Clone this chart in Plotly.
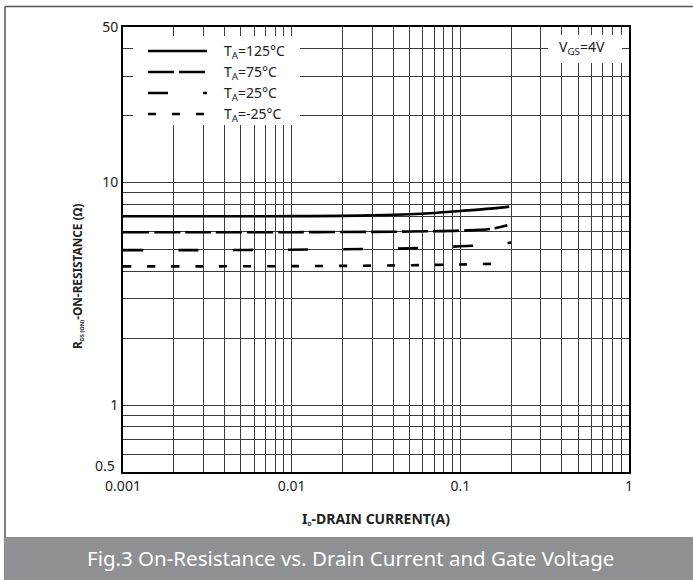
import plotly.graph_objects as go
import numpy as np

# ---- data ----
id_125 = [0.001, 0.002, 0.005, 0.01, 0.02, 0.03, 0.05, 0.07, 0.1, 0.15, 0.195]
r_125 = [7.05, 7.05, 7.05, 7.06, 7.08, 7.12, 7.2, 7.3, 7.45, 7.63, 7.79]

id_75 = [0.001, 0.003, 0.01, 0.03, 0.05, 0.1, 0.15, 0.19]
r_75 = [5.98, 5.98, 5.98, 6.0, 6.02, 6.08, 6.18, 6.42]

id_25 = [0.001, 0.003, 0.01, 0.03, 0.05, 0.1, 0.15, 0.2]
r_25 = [4.97, 4.97, 4.99, 5.03, 5.06, 5.17, 5.25, 5.37]

id_m25 = [0.001, 0.003, 0.01, 0.03, 0.05, 0.1, 0.175]
r_m25 = [4.2, 4.2, 4.21, 4.23, 4.25, 4.28, 4.32]

series_names = ["T<sub>A</sub>=125°C", "T<sub>A</sub>=75°C", "T<sub>A</sub>=25°C", "T<sub>A</sub>=-25°C"]
series_dash = ["solid", "26px,5px", "20px,35px", "8px,16px"]

x_tickvals = [0.001, 0.01, 0.1, 1]
x_ticktext = ["0.001", "0.01", "0.1", "1"]
y_tickvals = [1, 10, 50]
y_ticktext = ["1", "10", "50"]
y_corner_label = "0.5"

# ---- layout geometry (pixels) ----
W, H = 693, 580
PL, PR, PT, PB = 123, 629, 27, 472


def px(xp):
    return (xp - PL) / (PR - PL)


def py(yp):
    return (PB - yp) / (PB - PT)


fig = go.Figure()
for xs, ys, name, dash in zip([id_125, id_75, id_25, id_m25], [r_125, r_75, r_25, r_m25],
                              series_names, series_dash):
    fig.add_trace(go.Scatter(x=xs, y=ys, mode="lines", name=name, line_shape="spline",
                             line=dict(color="black", width=2.6, dash=dash),
                             showlegend=False))

# minor grid: every integer multiple of each decade
x_minor = [round(m * d, 6) for d in [0.001, 0.01, 0.1] for m in range(2, 10)]
y_minor = [round(m * d, 6) for d in [0.1, 1, 10] for m in range(2, 10)
           if 0.5 <= round(m * d, 6) <= 50]

tickfont = dict(family="Noto Sans", size=14, color="#222")
grid = dict(showgrid=True, gridcolor="#3c3c3c", gridwidth=1.3)
fig.update_xaxes(type="log", range=[-3, 0], tickvals=x_tickvals, ticktext=x_ticktext,
                 minor=dict(tickvals=x_minor, ticks="", **grid), **grid,
                 showline=True, linecolor="black", linewidth=2, mirror=True,
                 ticks="", tickfont=tickfont, zeroline=False)
fig.update_yaxes(type="log", range=[np.log10(0.5), np.log10(50)],
                 tickvals=y_tickvals, ticktext=y_ticktext,
                 minor=dict(tickvals=y_minor, ticks="", **grid), **grid,
                 showline=True, linecolor="black", linewidth=2, mirror=True,
                 ticks="", tickfont=tickfont, zeroline=False)

shapes = []
# legend box and VGS box
shapes.append(dict(type="rect", xref="paper", yref="paper", x0=px(133), x1=px(300),
                   y0=py(125), y1=py(36), fillcolor="white", line=dict(width=0), layer="above"))
shapes.append(dict(type="rect", xref="paper", yref="paper", x0=px(548), x1=px(622),
                   y0=py(63), y1=py(35), fillcolor="white", line=dict(width=0), layer="above"))
leg_y = [51, 72, 93, 114]
for yy, dash in zip(leg_y, series_dash):
    shapes.append(dict(type="line", xref="paper", yref="paper", x0=px(148), x1=px(207),
                       y0=py(yy), y1=py(yy), line=dict(color="black", width=2.6, dash=dash),
                       layer="above"))
# outer frame lines
shapes.append(dict(type="line", xref="paper", yref="paper", x0=px(5), x1=px(5),
                   y0=py(6.5), y1=py(580), line=dict(color="#555", width=1.5)))
shapes.append(dict(type="line", xref="paper", yref="paper", x0=px(5), x1=px(693),
                   y0=py(6.5), y1=py(6.5), line=dict(color="#555", width=1.5)))
# bottom caption band
shapes.append(dict(type="rect", xref="paper", yref="paper", x0=px(4.5), x1=px(700),
                   y0=py(585), y1=py(537), fillcolor="#8f9094", line=dict(width=0)))

annotations = []
for yy, name in zip(leg_y, series_names):
    annotations.append(dict(xref="paper", yref="paper", x=px(222), y=py(yy), text=name,
                            showarrow=False, xanchor="left", yanchor="middle",
                            font=dict(family="Noto Sans", size=14, color="#222")))
annotations.append(dict(xref="paper", yref="paper", x=px(557), y=py(48),
                        text="V<sub>GS</sub>=4V", showarrow=False, xanchor="left",
                        yanchor="middle", font=dict(family="Noto Sans", size=14, color="#222")))
annotations.append(dict(xref="paper", yref="paper", x=px(117), y=py(465),
                        text=y_corner_label, showarrow=False, xanchor="right",
                        yanchor="middle", font=tickfont))
annotations.append(dict(xref="paper", yref="paper", x=px(376), y=py(518),
                        text="<b>I<span style='font-size:8px'><sub>D</sub></span>-DRAIN CURRENT(A)</b>",
                        showarrow=False, xanchor="center", yanchor="middle",
                        font=dict(family="Noto Sans", size=14, color="#222")))
annotations.append(dict(xref="paper", yref="paper", x=px(77), y=py(277),
                        text="<b>R<span style='font-size:8px'><sub>DS (ON)</sub></span>-ON-RESISTANCE (Ω)</b>",
                        showarrow=False, textangle=-90, xanchor="center", yanchor="middle",
                        font=dict(family="Noto Sans", size=11.8, color="#222")))
annotations.append(dict(xref="paper", yref="paper", x=px(350), y=py(558),
                        text="Fig.3 On-Resistance vs. Drain Current and Gate Voltage",
                        showarrow=False, xanchor="center", yanchor="middle",
                        font=dict(family="Noto Sans", size=20.5, color="white")))

fig.update_layout(width=W, height=H, margin=dict(l=PL, r=W - PR, t=PT, b=H - PB),
                  plot_bgcolor="white", paper_bgcolor="white", showlegend=False,
                  shapes=shapes, annotations=annotations)

fig.write_html("out.html", config={"displayModeBar": False},
               post_script="document.body.style.margin='0';document.body.style.overflow='hidden';")
